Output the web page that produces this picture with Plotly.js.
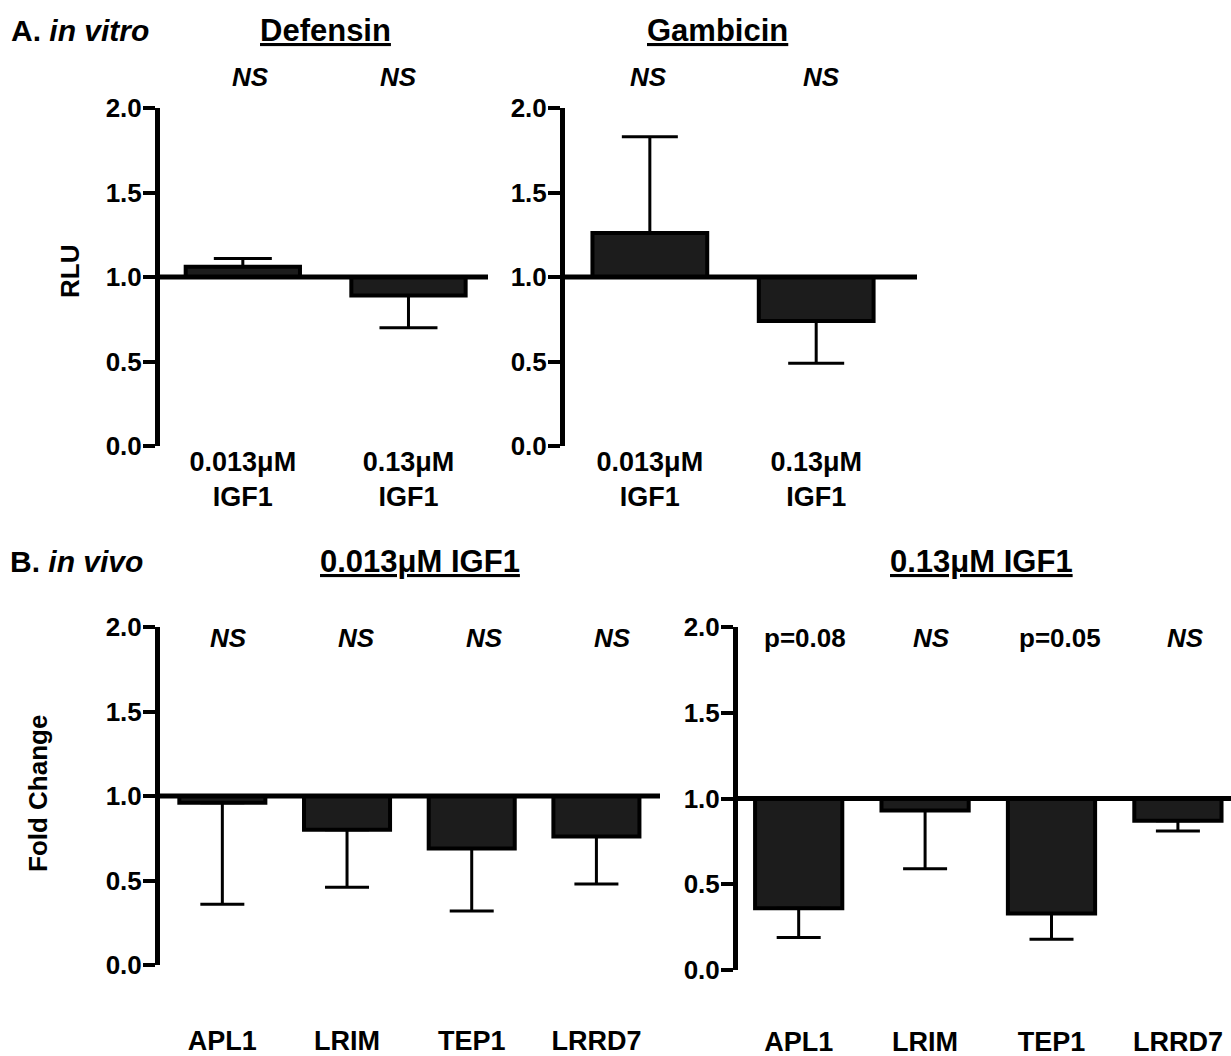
<!DOCTYPE html>
<html>
<head>
<meta charset="utf-8">
<script src="https://cdn.plot.ly/plotly-3.0.1.min.js"></script>
<style>html,body{margin:0;padding:0;background:#fff;}#chart{width:1231px;height:1056px;}</style>
</head>
<body>
<div id="chart"></div>
<script>
// ---------- data ----------
const vitroCats = ['0.013μM<br>IGF1', '0.13μM<br>IGF1'];
const defensinVals = [1.06, 0.89];
const defensinErr = [0.05, 0.19];
const defensinSig = ['NS', 'NS'];
const gambicinVals = [1.26, 0.74];
const gambicinErr = [0.57, 0.25];
const gambicinSig = ['NS', 'NS'];

const genes = ['APL1', 'LRIM', 'TEP1', 'LRRD7'];
const lowDoseVals = [0.96, 0.80, 0.69, 0.76];
const lowDoseErr = [0.60, 0.34, 0.37, 0.28];
const lowDoseSig = ['NS', 'NS', 'NS', 'NS'];
const highDoseVals = [0.36, 0.93, 0.33, 0.87];
const highDoseErr = [0.17, 0.34, 0.15, 0.06];
const highDoseSig = ['p=0.08', 'NS', 'p=0.05', 'NS'];

const yTickVals = [0, 0.5, 1.0, 1.5, 2.0];
const yTickText = ['0.0', '0.5', '1.0', '1.5', '2.0'];
const BASE = 1;

// ---------- helpers ----------
const FONT = 'Liberation Sans, Arial, Helvetica, sans-serif';
function barTrace(cats, vals, errs, xa, ya, capHalf) {
  const up = vals.map((v, i) => v >= BASE ? errs[i] : 0);
  const dn = vals.map((v, i) => v < BASE ? errs[i] : 0);
  return {
    type: 'bar', x: cats.map((c, i) => i), y: vals.map(v => v - BASE), base: BASE,
    xaxis: xa, yaxis: ya, width: 0.69,
    marker: {color: '#1c1c1c', line: {color: '#000', width: 4}},
    error_y: {type: 'data', symmetric: false, array: up, arrayminus: dn,
              color: '#000', thickness: 3, width: capHalf},
    hoverinfo: 'skip', showlegend: false
  };
}
function yAxis(domain, anchor) {
  return {domain: domain, anchor: anchor, range: [0, 2], tickvals: yTickVals, ticktext: yTickText,
    showline: true, linewidth: 5, linecolor: '#000', ticks: 'outside', ticklen: 12, tickwidth: 4,
    tickcolor: '#000', showgrid: false, zeroline: false, fixedrange: true, ticklabelstandoff: -4,
    tickfont: {family: FONT, size: 26, color: '#000', weight: 'bold'}};
}
function xAxis(domain, anchor, cats, range, standoff, fs) {
  return {domain: domain, anchor: anchor, range: range, tickvals: cats.map((c, i) => i), ticktext: cats,
    showline: false, ticks: '', showgrid: false, zeroline: false, fixedrange: true,
    ticklabelstandoff: standoff,
    tickfont: {family: FONT, size: fs, color: '#000', weight: 'bold'}};
}
function baseLine(xr, yr) {
  return {type: 'line', xref: xr + ' domain', x0: 0, x1: 1, yref: yr, y0: BASE, y1: BASE,
          line: {color: '#000', width: 5}, layer: 'above'};
}
function sigAnns(labels, xr, yPix, shifts) {
  return labels.map((t, i) => ({
    text: t, x: i, y: 1 - yPix / 1056, xref: xr, yref: 'paper', showarrow: false, xshift: shifts[i],
    xanchor: 'center', yanchor: 'middle',
    font: {family: FONT, size: 26, color: '#000', weight: 'bold', style: t === 'NS' ? 'italic' : 'normal'}
  }));
}
function textAnn(text, x, y, size, opts) {
  return Object.assign({text: text, x: x / 1231, y: 1 - y / 1056, xref: 'paper', yref: 'paper',
    showarrow: false, xanchor: 'center', yanchor: 'middle',
    font: {family: FONT, size: size, color: '#000', weight: 'bold'}}, opts || {});
}
function titleAnn(text, x, y) {
  return textAnn(text, x, y, 31, {font: {family: FONT, size: 31, color: '#000', weight: 'bold', lineposition: 'under'}});
}

const traces = [
  barTrace(vitroCats, defensinVals, defensinErr, 'x', 'y', 29),
  barTrace(vitroCats, gambicinVals, gambicinErr, 'x2', 'y2', 28),
  barTrace(genes, lowDoseVals, lowDoseErr, 'x3', 'y3', 22),
  barTrace(genes, highDoseVals, highDoseErr, 'x4', 'y4', 22)
];

const topY = [1 - 446 / 1056, 1 - 108 / 1056];
const layout = {
  width: 1231, height: 1056, margin: {l: 0, r: 0, t: 0, b: 0},
  paper_bgcolor: '#fff', plot_bgcolor: 'rgba(0,0,0,0)', showlegend: false,
  font: {family: FONT, color: '#000'},
  xaxis: xAxis([160 / 1231, 488 / 1231], 'y', vitroCats, [-0.50, 1.48], -3, 27),
  yaxis: yAxis(topY, 'x'),
  xaxis2: xAxis([565 / 1231, 917 / 1231], 'y2', vitroCats, [-0.51, 1.606], -3, 27),
  yaxis2: yAxis(topY, 'x2'),
  xaxis3: xAxis([160 / 1231, 660 / 1231], 'y3', genes, [-0.50, 3.51], 57, 27),
  yaxis3: yAxis([1 - 965 / 1056, 1 - 627 / 1056], 'x3'),
  xaxis4: xAxis([738 / 1231, 1], 'y4', genes, [-0.48, 3.42], 53, 27),
  yaxis4: yAxis([1 - 970 / 1056, 1 - 627 / 1056], 'x4'),
  shapes: [baseLine('x', 'y'), baseLine('x2', 'y2'), baseLine('x3', 'y3'), baseLine('x4', 'y4')],
  annotations: [].concat(
    sigAnns(defensinSig, 'x', 77, [8, -10]),
    sigAnns(gambicinSig, 'x2', 77, [-1, 5]),
    sigAnns(lowDoseSig, 'x3', 638, [6, 9, 13, 16]),
    sigAnns(highDoseSig, 'x4', 638, [6, 6, 8, 8]),
    [
      textAnn('A. <i>in vitro</i>', 9, 30, 30, {xanchor: 'left'}),
      titleAnn('Defensin', 326, 30),
      titleAnn('Gambicin', 717, 30),
      textAnn('B. <i>in vivo</i>', 8, 561, 30, {xanchor: 'left'}),
      titleAnn('0.013μM IGF1', 420, 561),
      titleAnn('0.13μM IGF1', 981, 561),
      textAnn('RLU', 70, 272, 26, {textangle: -90}),
      textAnn('Fold Change', 38, 794, 26, {textangle: -90})
    ]
  )
};

Plotly.newPlot('chart', traces, layout, {displayModeBar: false, staticPlot: true});
</script>
</body>
</html>
